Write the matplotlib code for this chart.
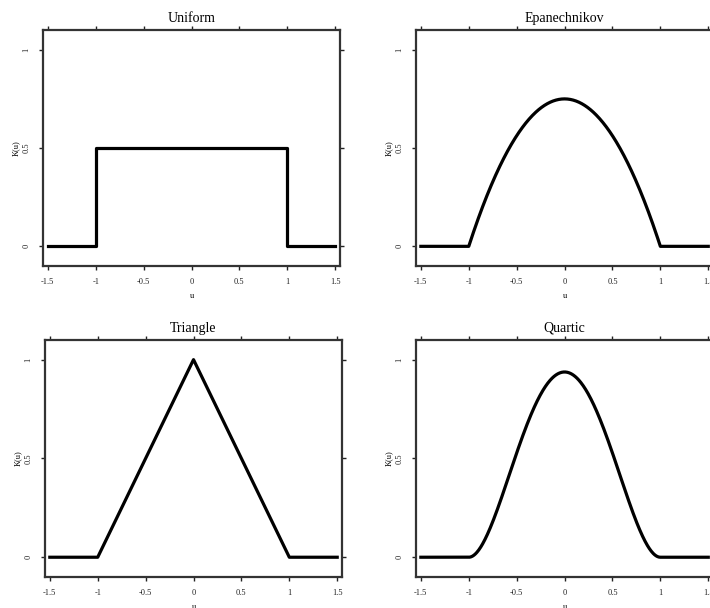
import matplotlib
matplotlib.use('Agg')
import matplotlib.pyplot as plt
import numpy as np

# kernel names and the grid of u values
names = ['Uniform', 'Epanechnikov', 'Triangle', 'Quartic']
u = np.linspace(-1.5, 1.5, 601)
# uniform kernel drawn as a step with vertical edges
uniform_u = [-1.5, -1, -1, 1, 1, 1.5]
uniform_k = [0, 0, 0.5, 0.5, 0, 0]
xticks = [-1.5, -1, -0.5, 0, 0.5, 1, 1.5]
xticklabels = ['-1.5', '-1', '-0.5', '0', '0.5', '1', '1.5']
yticks = [0, 0.5, 1]
yticklabels = ['0', '0.5', '1']


def kernel(name, u):
    inside = np.abs(u) <= 1
    if name == 'Epanechnikov':
        k = 0.75 * (1 - u ** 2)
    elif name == 'Triangle':
        k = 1 - np.abs(u)
    else:
        k = 15 / 16 * (1 - u ** 2) ** 2
    return np.where(inside, k, 0.0)


plt.rcParams['font.family'] = ['Liberation Serif', 'DejaVu Serif']

fig = plt.figure(figsize=(7.1, 6.08), dpi=100)
boxes = [
    [0.0606, 0.5625, 0.4183, 0.388],
    [0.586, 0.5625, 0.4183, 0.388],
    [0.0634, 0.051, 0.4183, 0.39],
    [0.586, 0.051, 0.4183, 0.39],
]

for name, box in zip(names, boxes):
    ax = fig.add_axes(box)
    if name == 'Uniform':
        ax.plot(uniform_u, uniform_k, color='black', lw=2.3)
    else:
        ax.plot(u, kernel(name, u), color='black', lw=2.3)
    ax.set_xlim(-1.55, 1.55)
    ax.set_ylim(-0.1, 1.1)
    ax.set_title(name, fontsize=10, pad=6)
    ax.set_xlabel('u', fontsize=6, labelpad=4)
    ax.set_ylabel('K(u)', fontsize=6, labelpad=2)
    ax.set_xticks(xticks)
    ax.set_xticklabels(xticklabels, fontsize=6)
    ax.set_yticks(yticks)
    ax.set_yticklabels(yticklabels, fontsize=6, rotation=90, va='center')
    ax.tick_params(direction='out', length=3, width=1, pad=6,
                   top=True, right=True, colors='#222222')
    for sp in ax.spines.values():
        sp.set_linewidth(1.6)
        sp.set_color('#333333')

fig.savefig('out.png', dpi=100)
